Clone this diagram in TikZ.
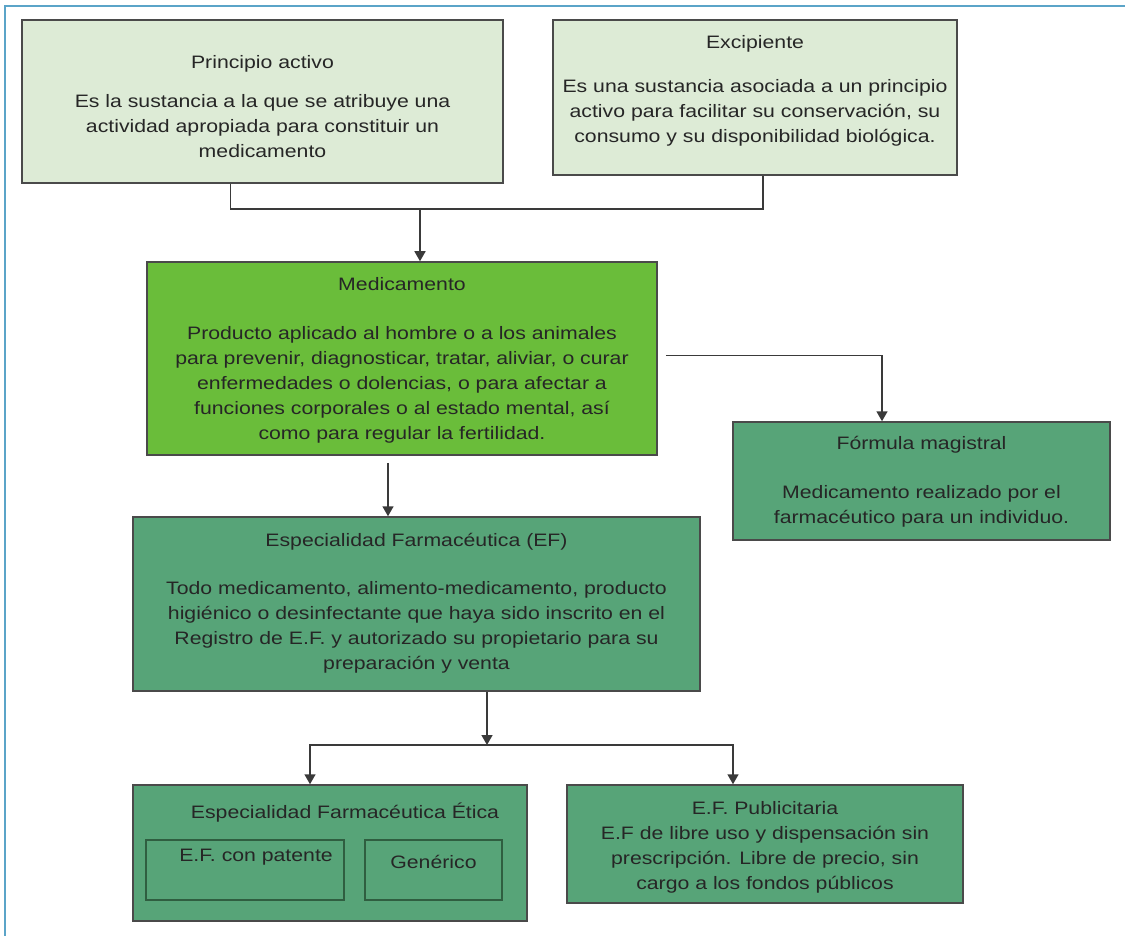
\documentclass[tikz,border=0pt]{standalone}
\usepackage{fontspec}
\setmainfont[FakeStretch=1.18]{Liberation Sans}
\usetikzlibrary{arrows.meta}
\definecolor{frameblue}{HTML}{5BA4C8}
\definecolor{lightg}{HTML}{DDEBD6}
\definecolor{brightg}{HTML}{6ABD3A}
\definecolor{midg}{HTML}{57A478}
\definecolor{edgec}{HTML}{4A4A4A}
\definecolor{arrc}{HTML}{3A3A3A}
\definecolor{innerc}{HTML}{2F5E40}
\definecolor{txt}{HTML}{262626}
\begin{document}
\begin{tikzpicture}[x=1pt,y=-1pt,
  every node/.style={font=\fontsize{18}{25}\selectfont, text=txt, inner sep=0pt},
  basebox/.style={draw=edgec, line width=1.5pt},
  lbox/.style={basebox, fill=lightg},
  bbox/.style={basebox, fill=brightg},
  gbox/.style={basebox, fill=midg},
  innerbox/.style={draw=innerc, line width=1.3pt},
  label/.style={align=center},
  conn/.style={draw=arrc, line width=1.6pt},
  arr/.style={conn, -{Triangle[width=11pt,length=10pt]}}
]
\useasboundingbox (0,0) rectangle (1125,936);
\draw[frameblue, line width=2.5pt] (5,936) -- (5,6) -- (1125,6);

% boxes
\node[lbox, minimum width=481, minimum height=163] (pa) at (262.5,101.5) {};
\node[lbox, minimum width=404, minimum height=155] (ex) at (755,97.5) {};
\node[bbox, minimum width=510, minimum height=193] (med) at (402,358.5) {};
\node[gbox, minimum width=377, minimum height=118] (fm) at (921.5,481) {};
\node[gbox, minimum width=567, minimum height=174] (ef) at (416.5,604) {};
\node[gbox, minimum width=394, minimum height=136] (et) at (330,853) {};
\node[innerbox, minimum width=198, minimum height=60] (pat) at (245,870) {};
\node[innerbox, minimum width=137, minimum height=60] (gen) at (433.5,870) {};
\node[gbox, minimum width=396, minimum height=118] (pub) at (765,844) {};

% texts
\node[label] (pa-t) at (262.5,107)
  {Principio activo\\[14pt]Es la sustancia a la que se atribuye una\\actividad apropiada para constituir un\\medicamento};
\node[label] (ex-t) at (755,91)
  {Excipiente\\[19pt]Es una sustancia asociada a un principio\\activo para facilitar su conservación, su\\consumo y su disponibilidad biológica.};
\node[label] (med-t) at (402,360.5)
  {Medicamento\\[24pt]Producto aplicado al hombre o a los animales\\para prevenir, diagnosticar, tratar, aliviar, o curar\\enfermedades o dolencias, o para afectar a\\funciones corporales o al estado mental, así\\como para regular la fertilidad.};
\node[label] (fm-t) at (921.5,482)
  {Fórmula magistral\\[24pt]Medicamento realizado por el\\farmacéutico para un individuo.};
\node[label] (ef-t) at (416.5,603.5)
  {Especialidad Farmacéutica (EF)\\[23pt]Todo medicamento, alimento-medicamento, producto\\higiénico o desinfectante que haya sido inscrito en el\\Registro de E.F. y autorizado su propietario para su\\preparación y venta};
\node[label] (et-t) at (345,813) {Especialidad Farmacéutica Ética};
\node[label] (pat-t) at (256,857) {E.F. con patente};
\node[label] (gen-t) at (433.5,862) {Genérico};
\node[label] (pub-t) at (765,847)
  {E.F. Publicitaria\\E.F de libre uso y dispensación sin\\prescripción. Libre de precio, sin\\cargo a los fondos públicos};

% connectors
\coordinate (j1) at (420,209);
\draw[conn] ([xshift=-32]pa.south) |- (j1) -| ([xshift=8]ex.south);
\draw[arr] (j1) -- (j1 |- med.north);
\draw[arr] ([xshift=8,yshift=3]med.east) -| ([xshift=-39.5]fm.north);
\draw[arr] ([xshift=-14,yshift=-7]med.south) -- ([xshift=-28.5]ef.north);
\coordinate (j2) at (487,745);
\draw[arr] (ef.south -| j2) -- (j2);
\draw[arr] (j2) -| ([xshift=-20]et.north);
\draw[arr] (j2) -| ([xshift=-32]pub.north);
\end{tikzpicture}
\end{document}
